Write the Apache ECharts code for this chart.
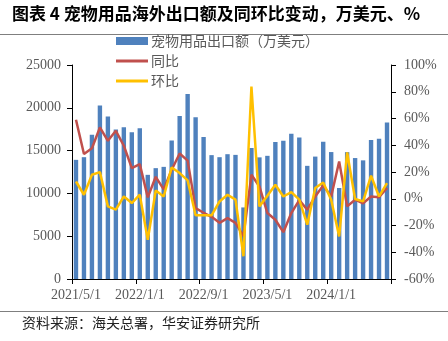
<!DOCTYPE html>
<html>
<head>
<meta charset="utf-8">
<script src="https://cdn.jsdelivr.net/npm/echarts@6/dist/echarts.min.js"></script>
<style>
  html, body { margin: 0; padding: 0; background: #fff; }
  #chart { width: 448px; height: 341px; }
</style>
</head>
<body>
<div id="chart"></div>
<script>
// Monthly categories, 2021/5 to 2024/8
const months = [
  '2021/5/1','2021/6/1','2021/7/1','2021/8/1','2021/9/1','2021/10/1','2021/11/1','2021/12/1',
  '2022/1/1','2022/2/1','2022/3/1','2022/4/1','2022/5/1','2022/6/1','2022/7/1','2022/8/1',
  '2022/9/1','2022/10/1','2022/11/1','2022/12/1','2023/1/1','2023/2/1','2023/3/1','2023/4/1',
  '2023/5/1','2023/6/1','2023/7/1','2023/8/1','2023/9/1','2023/10/1','2023/11/1','2023/12/1',
  '2024/1/1','2024/2/1','2024/3/1','2024/4/1','2024/5/1','2024/6/1','2024/7/1','2024/8/1'
];

// Pet product export value, 10k USD
const exportValue = [
  13920, 14230, 16840, 20260, 18970, 17460, 17740, 17150, 17620, 12170,
  12950, 13100, 16170, 19050, 21620, 18900, 16600, 14470, 14230, 14580,
  14500, 8360, 15290, 14210, 14390, 16000, 16140, 16970, 16540, 13220,
  14300, 16020, 14830, 10630, 14820, 14130, 13860, 16250, 16370, 18270
];

// Year-on-year change, %
const yoy = [
  59, 33.4, 37.8, 53.3, 43.3, 50.8, 39.6, 22.9, 25.9, 1,
  16.4, 7, 21.7, 33.8, 28.5, -7, -10.5, -13.5, -18, -14.5,
  -18, -28, 18, 9.2, -10.7, -15.7, -25, -10.7, -1, -8.2,
  1.7, 10, 1.7, 27.9, -5.7, -0.7, -3.5, 1.7, 1.2, 8
];

// Month-on-month change, %
const mom = [
  12.9, 3, 17.9, 19.9, -5.7, -8.2, 1.7, -3.2, 3, -30.6,
  6.2, 1.7, 23.4, 19.2, 13.7, -12.4, -12.4, -12.4, -2, 3,
  -0.7, -43, 83.9, -5.7, 2.2, 10.5, 1.7, 5, -0.7, -19.4,
  8, 12.2, -0.7, -28.2, 34.6, -0.2, -2, 17.2, 1.7, 11.7
];

const seriesNames = ['宠物用品出口额（万美元）', '同比', '环比'];

const latin = "'Liberation Serif', 'Times New Roman', serif";
const cjk = "'Noto Sans CJK SC', sans-serif";
const axisGray = '#595959';

const chart = echarts.init(document.getElementById('chart'), null, { renderer: 'canvas' });

chart.setOption({
  backgroundColor: '#ffffff',
  animation: false,
  title: {
    text: '图表 4 宠物用品海外出口额及同环比变动，万美元、%',
    left: 12,
    top: 5,
    padding: 0,
    textStyle: { fontFamily: cjk, fontSize: 17, fontWeight: 'bold', color: '#000' }
  },
  legend: {
    orient: 'vertical',
    left: 116,
    top: 34,
    padding: 0,
    itemWidth: 32,
    itemHeight: 8,
    itemGap: 6,
    textStyle: { fontFamily: cjk, fontSize: 14, color: axisGray, padding: [0, 0, 0, -2] },
    data: [
      { name: seriesNames[0], icon: 'rect' },
      { name: seriesNames[1], icon: 'path://M0 0H32V3H0Z' },
      { name: seriesNames[2], icon: 'path://M0 0H32V3H0Z' }
    ]
  },
  grid: { left: 72, right: 57, top: 65, bottom: 62, containLabel: false },
  xAxis: {
    type: 'category',
    data: months,
    boundaryGap: true,
    axisLine: { show: true, lineStyle: { color: '#000', width: 1 } },
    axisTick: { show: true, interval: 7, length: 5, lineStyle: { color: '#000' } },
    axisLabel: {
      interval: 7,
      margin: 9,
      fontFamily: latin,
      fontSize: 14,
      color: axisGray
    },
    splitLine: { show: false }
  },
  yAxis: [
    {
      type: 'value',
      min: 0,
      max: 25000,
      interval: 5000,
      position: 'left',
      axisLine: { show: true, lineStyle: { color: '#000', width: 1 } },
      axisTick: { show: true, length: 5, lineStyle: { color: '#000' } },
      axisLabel: {
        margin: 11, fontFamily: latin, fontSize: 14, color: axisGray,
        formatter: (v) => String(v)
      },
      splitLine: { show: false }
    },
    {
      type: 'value',
      min: -60,
      max: 100,
      interval: 20,
      position: 'right',
      axisLine: { show: true, lineStyle: { color: '#000', width: 1 } },
      axisTick: { show: true, length: 5, lineStyle: { color: '#000' } },
      axisLabel: { margin: 13, fontFamily: latin, fontSize: 14, color: axisGray, formatter: '{value}%' },
      splitLine: { show: false }
    }
  ],
  series: [
    {
      name: seriesNames[0],
      type: 'bar',
      yAxisIndex: 0,
      data: exportValue,
      barWidth: '55%',
      itemStyle: { color: '#4F81BD' }
    },
    {
      name: seriesNames[1],
      type: 'line',
      yAxisIndex: 1,
      data: yoy,
      symbol: 'none',
      lineStyle: { color: '#C0504D', width: 2.5 },
      itemStyle: { color: '#C0504D' }
    },
    {
      name: seriesNames[2],
      type: 'line',
      yAxisIndex: 1,
      data: mom,
      symbol: 'none',
      lineStyle: { color: '#FFC000', width: 2.5 },
      itemStyle: { color: '#FFC000' }
    }
  ],
  graphic: [
    {
      type: 'line',
      shape: { x1: 0, y1: 34.5, x2: 448, y2: 34.5 },
      style: { stroke: '#7f7f7f', lineWidth: 1 }
    },
    {
      type: 'line',
      shape: { x1: 0, y1: 311.5, x2: 448, y2: 311.5 },
      style: { stroke: '#7f7f7f', lineWidth: 1 }
    },
    {
      type: 'text',
      left: 22,
      top: 316,
      style: {
        text: '资料来源：海关总署，华安证券研究所',
        fontFamily: cjk,
        fontSize: 14,
        fill: '#222'
      }
    }
  ]
});
</script>
</body>
</html>
